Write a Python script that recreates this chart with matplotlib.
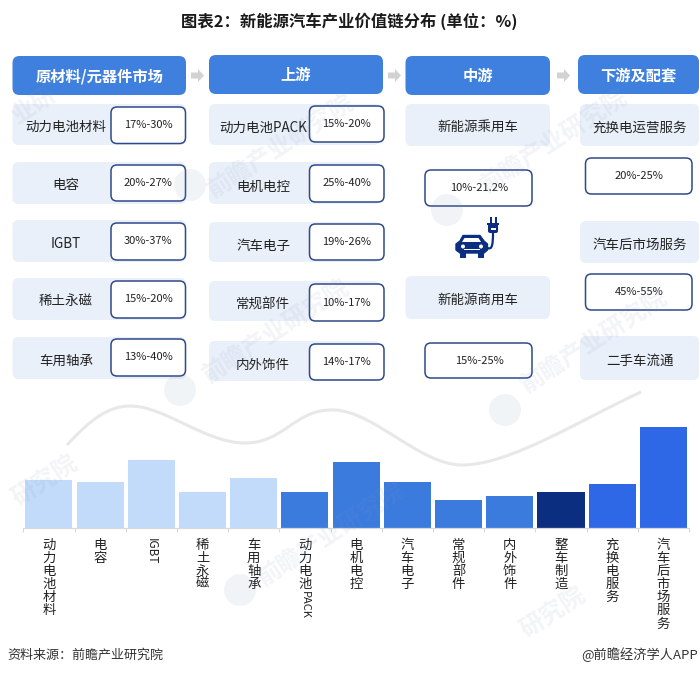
import matplotlib
matplotlib.use("Agg")
import matplotlib.pyplot as plt
from matplotlib.patches import FancyBboxPatch, Polygon, Circle, Rectangle, PathPatch
from matplotlib.path import Path

plt.rcParams['font.family'] = ['Noto Sans CJK SC', 'DejaVu Sans']

# ---- data -------------------------------------------------------------
TITLE = "图表2：新能源汽车产业价值链分布 (单位：%)"
SOURCE = "资料来源：前瞻产业研究院"
CREDIT = "@前瞻经济学人APP"
headers = ["原材料/元器件市场", "上游", "中游", "下游及配套"]
col1_names = ["动力电池材料", "电容", "IGBT", "稀土永磁", "车用轴承"]
col1_ranges = ["17%-30%", "20%-27%", "30%-37%", "15%-20%", "13%-40%"]
col2_names = ["动力电池PACK", "电机电控", "汽车电子", "常规部件", "内外饰件"]
col2_ranges = ["15%-20%", "25%-40%", "19%-26%", "10%-17%", "14%-17%"]
col3_names = ["新能源乘用车", "新能源商用车"]
col3_ranges = ["10%-21.2%", "15%-25%"]
col4_names = ["充换电运营服务", "汽车后市场服务", "二手车流通"]
col4_ranges = ["20%-25%", "45%-55%"]
bar_categories = ["动力电池材料", "电容", "IGBT", "稀土永磁", "车用轴承", "动力电池PACK",
                  "电机电控", "汽车电子", "常规部件", "内外饰件", "整车制造", "充换电服务", "汽车后市场服务"]
bar_values = [23.8, 22.8, 33.7, 17.8, 24.8, 17.8, 32.7, 22.8, 13.9, 15.8, 17.8, 21.8, 50.0]
bar_colors = ["#C3DBFA"] * 5 + ["#3B7BDE"] * 5 + ["#0B2E80", "#2F68E6", "#2F68E6"]

W, H = 699, 675
HEADER = "#3F80DF"
LIGHT = "#E9F0FA"
EDGE = "#2F4A8A"
NAVY = "#0B2E80"
TXT = "#222222"

fig = plt.figure(figsize=(W / 100, H / 100), dpi=100, facecolor="white")
ax = fig.add_axes([0, 0, 1, 1], zorder=1)
ax.set_xlim(0, W); ax.set_ylim(H, 0); ax.axis("off")


def rbox(x0, y0, x1, y1, fc, ec="none", lw=0, r=6, z=2):
    ax.add_patch(FancyBboxPatch((x0 + r, y0 + r), x1 - x0 - 2 * r, y1 - y0 - 2 * r,
                                boxstyle=f"round,pad={r},rounding_size={r}",
                                fc=fc, ec=ec, lw=lw, zorder=z))


def label(x, y, s, size=9.7, color=TXT, weight="normal", z=5, **kw):
    ax.text(x, y, s, fontsize=size, color=color, fontweight=weight, ha=kw.pop("ha", "center"),
            va="center", zorder=z, **kw)


label(349.5, 21, TITLE, size=11.75, weight="bold", color="#1a1a1a")

# headers
hdr_boxes = [(12.5, 56, 186, 95), (209, 55, 383, 94), (405.5, 56, 550, 95), (578, 55, 699, 94)]
for (x0, y0, x1, y1), t in zip(hdr_boxes, headers):
    rbox(x0, y0, x1, y1, HEADER, r=7)
    label((x0 + x1) / 2, (y0 + y1) / 2 + 0.5, t, size=11, color="white", weight="bold")

# arrows between headers
for xa in (191, 388, 557):
    ax.add_patch(Polygon([(xa, 72.5), (xa + 7, 72.5), (xa + 7, 69), (xa + 13, 75.5),
                          (xa + 7, 82), (xa + 7, 78.5), (xa, 78.5)], fc="#D2D2D2", ec="none", zorder=2))

# column 1
c1_light = [(104, 145), (162, 204), (220, 262), (278, 320), (337, 379)]
c1_white = [(107, 143.5), (165, 201), (223, 260), (281, 318), (339, 376)]
for (a, b), (c, d), n, r_ in zip(c1_light, c1_white, col1_names, col1_ranges):
    rbox(12.5, a, 186, b, LIGHT)
    rbox(111, c, 185.5, d, "white", EDGE, 1.1)
    label(66, (a + b) / 2 + 2.5, n)
    label(148, (c + d) / 2, r_, size=8)

# column 2
c2_light = [(104, 145), (162, 204), (222, 262), (281, 321), (341, 381)]
c2_white = [(106, 142), (165, 202), (224, 260), (284, 321), (344, 380)]
for (a, b), (c, d), n, r_ in zip(c2_light, c2_white, col2_names, col2_ranges):
    rbox(209, a, 380, b, LIGHT)
    rbox(309.5, c, 384, d, "white", EDGE, 1.1)
    label(263, (a + b) / 2 + 3.5, n)
    label(346.5, (c + d) / 2, r_, size=8)

# column 3
for (a, b), (c, d), n, r_ in zip([(104, 146), (276, 319)], [(170, 206), (343, 378)], col3_names, col3_ranges):
    rbox(405.5, a, 550, b, LIGHT)
    rbox(425, c, 532, d, "white", EDGE, 1.1)
    label(478, (a + b) / 2 + 2, n)
    label(479, (c + d) / 2, r_, size=8)

# column 4
for (a, b), n in zip([(104, 146), (221, 263), (336, 380)], col4_names):
    rbox(580, a, 699, b, LIGHT)
    label(640, (a + b) / 2 + 2.5, n)
for (c, d), r_ in zip([(158, 194), (274, 310)], col4_ranges):
    rbox(585.5, c, 692, d, "white", EDGE, 1.1)
    label(639, (c + d) / 2, r_, size=8)

# car + plug icon
ax.add_patch(Polygon([(456, 250), (456, 244), (460, 241), (463, 235.5), (480, 235.5), (484, 241),
                      (487.5, 244), (487.5, 250), (484, 253), (460, 253)], fc=NAVY, ec=NAVY,
                     lw=1, joinstyle="round", zorder=4))
ax.add_patch(Polygon([(464.5, 238), (478.5, 238), (481, 242), (462, 242)], fc="white", zorder=5))
for cx in (463, 481):
    ax.add_patch(Circle((cx, 246.5), 2, fc="white", zorder=5))
    ax.add_patch(Rectangle((cx - 3, 252), 6, 6, fc=NAVY, zorder=4))
ax.add_patch(Rectangle((464, 249), 16, 1, fc="white", zorder=5))
ax.add_patch(PathPatch(Path([(487.5, 248), (492, 250), (493, 245), (493, 233)],
                            [Path.MOVETO, Path.CURVE4, Path.CURVE4, Path.CURVE4]),
                       fc="none", ec=NAVY, lw=1.6, zorder=4))
ax.add_patch(FancyBboxPatch((489, 224), 8, 8, boxstyle="round,pad=1,rounding_size=2", fc=NAVY, ec="none", zorder=4))
ax.add_patch(Rectangle((487, 222.5), 12, 2, fc=NAVY, zorder=4))
ax.add_patch(Rectangle((489.5, 217), 2.2, 6, fc=NAVY, zorder=4))
ax.add_patch(Rectangle((494.5, 217), 2.2, 6, fc=NAVY, zorder=4))
ax.add_patch(Rectangle((490.5, 228), 5, 1.6, fc="white", zorder=5))

# decorative curve
curve = Path([(67, 445), (90, 420), (108, 406), (130, 406),
              (165, 406), (205, 443), (245, 443),
              (285, 443), (295, 408), (335, 410),
              (375, 412), (420, 465), (462, 465),
              (510, 465), (580, 420), (641, 392)],
             [Path.MOVETO] + [Path.CURVE4] * 15)
ax.add_patch(PathPatch(curve, fc="none", ec="#E8E8E8", lw=2.2, zorder=1))

# footer
label(7, 655, SOURCE, size=9.4, ha="left", color="#333333")
label(698, 655, CREDIT, size=9.5, ha="right", color="#333333")

# ---- bar chart ---------------------------------------------------------
left, right, base, top = 23.3, 689, 528, 427
bx = fig.add_axes([left / W, 1 - base / H, (right - left) / W, (base - top) / H], zorder=2)
bx.patch.set_alpha(0)
xs = list(range(len(bar_categories)))
bx.bar(xs, bar_values, width=0.92, color=bar_colors)
bx.set_xlim(-0.5, len(xs) - 0.5)
bx.set_ylim(0, 50)
bx.set_yticks([])
for s in ("top", "left", "right"):
    bx.spines[s].set_visible(False)
bx.spines["bottom"].set_color("#D9D9D9")
bx.spines["bottom"].set_linewidth(0.9)
bx.set_xticks([i - 0.5 for i in range(len(xs) + 1)], minor=True)
bx.tick_params(axis="x", which="minor", length=3, color="#D9D9D9", width=0.8)


def vlabel(s):
    if s == "IGBT":
        return s
    if s.endswith("PACK"):
        return "\n".join(s[:-4])
    return "\n".join(s)


bx.set_xticks(xs)
bx.set_xticklabels([vlabel(c) for c in bar_categories], fontsize=9.6, color=TXT, linespacing=0.92)
bx.tick_params(axis="x", which="major", length=0, pad=7)
for t, c in zip(bx.get_xticklabels(), bar_categories):
    t.set_verticalalignment("top")
    if c == "IGBT":
        t.set_rotation(270)
        t.set_fontsize(8.5)
# the rotated Latin tail of the PACK label
i_pack = bar_categories.index("动力电池PACK")
ax.text(left + (i_pack + 0.5) * (right - left) / len(xs), 591, "PACK", rotation=270, fontsize=8,
        color=TXT, ha="center", va="top", zorder=5)

# ---- watermark on top --------------------------------------------------
WM = "#7F97B5"
wm = fig.add_axes([0, 0, 1, 1], zorder=3)
wm.set_xlim(0, W); wm.set_ylim(H, 0); wm.axis("off"); wm.patch.set_alpha(0)
for x, y, s in [(210, 192, "前瞻产业研究院"), (483, 187, "前瞻产业研究院"), (205, 377, "前瞻产业研究院"),
                (523, 387, "前瞻产业研究院"), (260, 580, "前瞻产业研究院"), (14, 500, "研究院"),
                (14, 118, "业研"), (522, 632, "研究院")]:
    wm.text(x, y, s, rotation=33, fontsize=17.5, color=WM, alpha=0.1,
            ha="left", va="center", rotation_mode="anchor", fontweight="bold")
for x, y in [(190, 185), (447, 210), (180, 390), (505, 410), (240, 590)]:
    wm.add_patch(Circle((x, y), 16, fc=WM, ec="none", alpha=0.1))

fig.savefig("out.png", dpi=100)
